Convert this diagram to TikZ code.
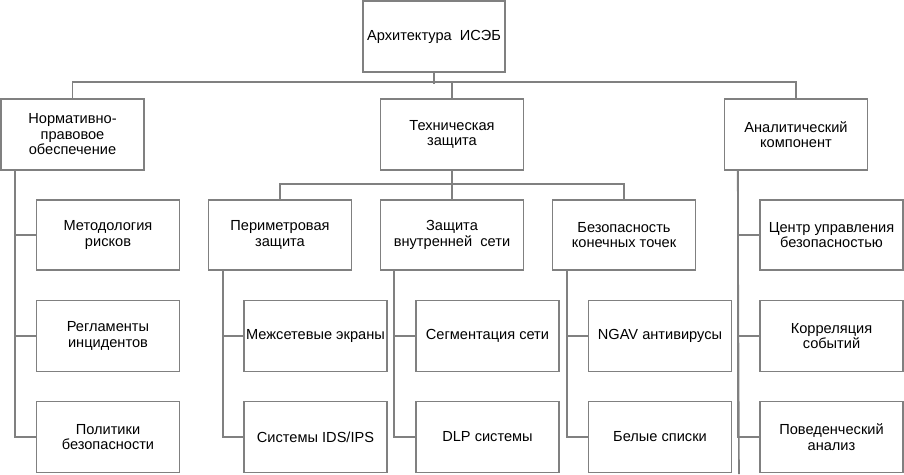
\documentclass[tikz,border=0pt]{standalone}
\usepackage{fontspec}
\setmainfont{Liberation Sans}
\definecolor{linegray}{RGB}{128,128,128}
\begin{document}
\begin{tikzpicture}[x=1pt,y=1pt,
  box/.style={draw=linegray, line width=1.6pt, fill=white, minimum width=143pt, minimum height=71pt, inner sep=0pt, align=center, text=black, font=\fontsize{14.6}{15.5}\selectfont},
  conn/.style={draw=linegray, line width=1.6pt}]
\useasboundingbox (0,0) rectangle (904,-474);
% root
\node[box, minimum width=142pt] (root) at (434,-36.5) {Архитектура\ \ ИСЭБ};
% level 1
\node[box] (n1) at (72.5,-134.5) {Нормативно-\\правовое\\обеспечение};
\node[box] (n2) at (452,-134.5) {Техническая\\защита};
\node[box] (n3) at (796,-134.5) {Аналитический\\компонент};
% level 2 technical
\node[box, minimum height=70pt] (t1) at (280,-235) {Периметровая\\защита};
\node[box, minimum height=70pt] (t2) at (452,-235) {Защита\\внутренней\ \ сети};
\node[box, minimum height=70pt] (t3) at (624,-235) {Безопасность\\конечных точек};
% left column
\node[box, minimum height=70pt] (a1) at (108,-235) {Методология\\рисков};
\node[box] (a2) at (108,-336) {Регламенты\\инцидентов};
\node[box] (a3) at (108,-437) {Политики\\безопасности};
% perimeter
\node[box] (p1) at (315.5,-336) {Межсетевые экраны};
\node[box] (p2) at (315.5,-437) {Системы IDS/IPS};
% internal
\node[box] (s1) at (487.5,-336) {Сегментация сети};
\node[box] (s2) at (487.5,-437) {DLP системы};
% endpoints
\node[box] (e1) at (660,-336) {NGAV антивирусы};
\node[box] (e2) at (660,-437) {Белые списки};
% analytics
\node[box, minimum height=70pt] (r1) at (831.5,-235) {Центр управления\\безопасностью};
\node[box] (r2) at (831.5,-336) {Корреляция\\событий};
\node[box] (r3) at (831.5,-437) {Поведенческий\\анализ};
\coordinate (rbot) at (739,-474);
% top connectors
\draw[conn] (root.south) -- ++(0,-11);
\draw[conn] (n1.north) -- ++(0,16) -| (n3.north);
\draw[conn] (n2.north) -- ++(0,16);
% technical bus
\draw[conn] (n2.south) -- ++(0,-15);
\draw[conn] (t1.north) -- ++(0,15) -| (t3.north);
\draw[conn] (t2.north) -- ++(0,15);
% columns
\draw[conn] ([xshift=15pt]n1.south west) |- (a3.west);
\draw[conn] ([xshift=15pt]n1.south west) |- (a1.west);
\draw[conn] ([xshift=15pt]n1.south west) |- (a2.west);
\draw[conn] ([xshift=15pt]t1.south west) |- (p2.west);
\draw[conn] ([xshift=15pt]t1.south west) |- (p1.west);
\draw[conn] ([xshift=14pt]t2.south west) |- (s2.west);
\draw[conn] ([xshift=14pt]t2.south west) |- (s1.west);
\draw[conn] ([xshift=15pt]t3.south west) |- (e2.west);
\draw[conn] ([xshift=15pt]t3.south west) |- (e1.west);
\draw[conn] ([xshift=14pt]n3.south west) -- (rbot);
\draw[conn] ([xshift=14pt]n3.south west) |- (r1.west);
\draw[conn] ([xshift=14pt]n3.south west) |- (r2.west);
\draw[conn] ([xshift=14pt]n3.south west) |- (r3.west);
\end{tikzpicture}
\end{document}
